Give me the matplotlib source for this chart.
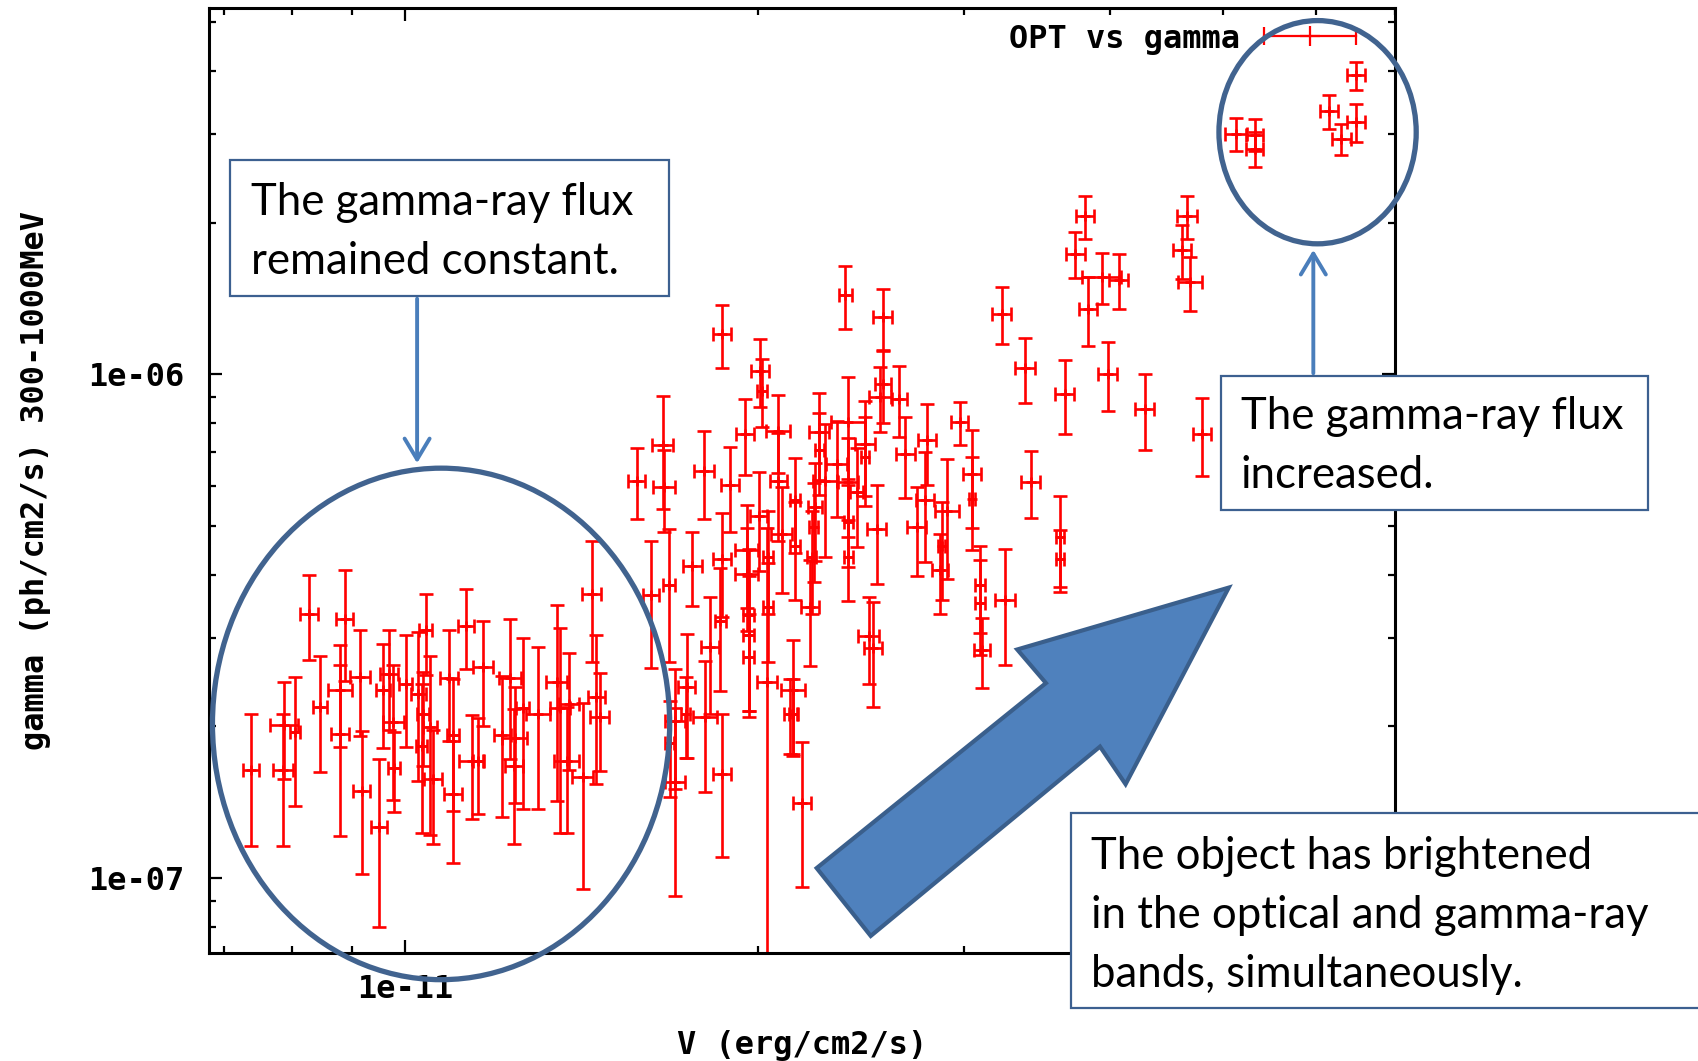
import numpy as np
import matplotlib.pyplot as plt
from matplotlib.patches import Rectangle, Ellipse, Polygon, FancyArrowPatch
from matplotlib.ticker import LogLocator, FixedLocator, FuncFormatter, NullFormatter

# V-band flux [1e-11 erg/cm2/s] and its error
v_flux = [
    0.739, 0.788, 0.787, 0.805, 0.828, 0.846, 0.888, 0.880, 0.880, 0.915, 0.918,
    0.950, 0.958, 0.969, 0.977, 0.979, 1.001, 1.026, 1.041, 1.033, 1.036, 1.050,
    1.057, 1.091, 1.099, 1.099, 1.127, 1.140, 1.166, 1.154, 1.211, 1.230, 1.239,
    1.241, 1.260, 1.299, 1.347, 1.356, 1.374, 1.381, 1.418, 1.443, 1.457, 1.467,
    1.866, 1.577, 1.660, 1.665, 1.622, 1.680, 1.801, 1.759, 1.895, 1.866, 1.951,
    2.010, 2.016, 2.082, 2.084, 1.958, 1.958, 2.004, 2.043, 2.043, 2.098, 1.701,
    1.701, 1.683, 1.740, 1.736, 1.804, 1.866, 1.822, 1.858, 1.965, 1.965, 1.965,
    2.037, 2.133, 2.376, 2.558, 2.560, 2.544, 2.644, 2.674, 2.259, 2.259, 2.391,
    2.472, 2.470, 2.337, 2.284, 2.391, 2.430, 2.529, 2.391, 2.391, 2.240, 2.233,
    2.225, 2.217, 2.153, 2.153, 2.790, 2.780, 2.735, 2.976, 3.049, 3.049, 2.902,
    2.872, 2.864, 2.146, 2.146, 2.182, 2.488, 2.509, 3.096, 3.100, 3.110,
    3.810, 3.736, 3.830, 3.937, 4.068, 3.234, 3.386, 3.660, 3.983, 4.282, 4.793,
    4.657, 4.609, 4.685, 3.422, 3.627, 3.627, 3.255,
    5.125, 5.316, 5.316, 6.150, 6.305, 6.490, 6.490,
]
v_err = [
    0.012, 0.022, 0.015, 0.008, 0.015, 0.012, 0.015, 0.020, 0.015, 0.018, 0.016,
    0.015, 0.013, 0.017, 0.020, 0.012, 0.013, 0.015, 0.014, 0.012, 0.012, 0.015,
    0.019, 0.019, 0.012, 0.020, 0.018, 0.028, 0.023, 0.012, 0.020, 0.026, 0.022,
    0.031, 0.016, 0.030, 0.028, 0.027, 0.034, 0.027, 0.030, 0.026, 0.025, 0.027,
    0.032, 0.027, 0.035, 0.037, 0.026, 0.020, 0.035, 0.033, 0.034, 0.032, 0.034,
    0.035, 0.020, 0.050, 0.034, 0.043, 0.045, 0.033, 0.020, 0.020, 0.043, 0.034,
    0.034, 0.015, 0.030, 0.015, 0.041, 0.034, 0.033, 0.020, 0.020, 0.020, 0.020,
    0.040, 0.028, 0.030, 0.049, 0.040, 0.056, 0.040, 0.050, 0.044, 0.020, 0.080,
    0.050, 0.020, 0.050, 0.054, 0.048, 0.030, 0.048, 0.020, 0.020, 0.030, 0.020,
    0.020, 0.040, 0.020, 0.020, 0.050, 0.047, 0.049, 0.052, 0.056, 0.020, 0.068,
    0.020, 0.047, 0.050, 0.020, 0.038, 0.050, 0.045, 0.030, 0.030, 0.050,
    0.070, 0.070, 0.070, 0.150, 0.074, 0.060, 0.065, 0.070, 0.075, 0.080, 0.083,
    0.090, 0.085, 0.110, 0.065, 0.030, 0.030, 0.065,
    0.110, 0.090, 0.090, 0.110, 0.115, 0.120, 0.120,
]

# gamma-ray flux 300-1000 MeV [1e-7 ph/cm2/s] and its error
g_flux = [
    1.64, 2.01, 1.64, 1.95, 3.35, 2.19, 3.27, 2.36, 1.93, 2.51, 1.49,
    1.26, 2.36, 2.54, 2.04, 1.65, 2.43, 2.32, 3.10, 1.83, 2.12, 1.99,
    1.57, 2.49, 1.92, 1.47, 3.17, 1.71, 2.62, 1.71, 1.92, 2.49, 1.67,
    1.90, 2.18, 2.12, 2.45, 2.18, 1.71, 2.22, 1.59, 3.67, 2.29, 2.09,
    12.03, 6.15, 7.22, 5.97, 3.64, 3.81, 6.44, 4.17, 6.02, 4.30, 7.62,
    10.17, 9.28, 7.73, 6.15, 4.47, 4.02, 5.24, 4.34, 3.45, 4.82, 2.05,
    1.55, 1.85, 2.39, 2.12, 2.09, 1.61, 2.87, 3.24, 3.32, 3.03, 2.75,
    2.45, 2.12, 14.35, 12.98, 9.56, 9.01, 8.94, 6.95, 7.67, 7.07, 8.03,
    7.28, 6.85, 6.64, 6.15, 6.11, 5.83, 4.93, 5.09, 4.34, 5.45, 4.97,
    4.34, 3.45, 5.62, 4.57, 7.39, 5.62, 4.97, 8.03, 6.35, 5.66, 5.36,
    4.57, 4.08, 2.36, 2.12, 1.41, 3.02, 2.86, 3.81, 3.52, 2.83,
    20.57, 17.34, 13.49, 15.59, 15.40, 13.18, 10.29, 9.15, 10.02, 8.54, 7.62,
    20.57, 17.61, 15.23, 6.11, 4.76, 4.30, 3.57,
    30.0, 29.9, 28.0, 33.3, 29.3, 31.65, 39.2,
]
g_err = [
    0.48, 0.44, 0.48, 0.56, 0.64, 0.57, 0.81, 0.54, 0.72, 0.60, 0.47,
    0.46, 0.55, 0.57, 0.61, 0.30, 0.61, 0.76, 0.57, 0.60, 0.45, 0.77,
    0.40, 0.62, 0.56, 0.40, 0.57, 0.40, 0.62, 0.37, 0.60, 0.77, 0.50,
    0.49, 0.81, 0.75, 1.03, 0.95, 0.48, 0.58, 0.64, 0.99, 0.75, 0.46,
    1.72, 1.00, 1.83, 1.11, 1.03, 1.13, 1.28, 0.70, 1.16, 1.00, 1.32,
    1.58, 1.43, 1.36, 1.48, 1.04, 0.93, 1.17, 1.00, 0.77, 1.14, 0.55,
    0.63, 0.40, 0.66, 0.39, 0.61, 0.51, 0.75, 0.89, 1.17, 0.94, 0.60,
    2.50, 0.36, 2.05, 1.80, 1.57, 1.32, 1.45, 1.26, 1.50, 1.30, 1.83,
    1.55, 1.38, 1.44, 1.82, 1.35, 1.30, 1.10, 0.95, 0.80, 1.20, 1.10,
    1.00, 0.82, 1.20, 1.00, 1.35, 1.39, 1.00, 0.79, 1.40, 1.18, 1.44,
    1.00, 0.74, 0.61, 0.36, 0.45, 0.59, 0.67, 0.75, 0.75, 0.45,
    2.03, 1.82, 2.09, 1.81, 1.90, 1.72, 1.52, 1.54, 1.55, 1.48, 1.33,
    2.03, 2.14, 1.89, 0.92, 0.98, 0.60, 0.92,
    2.28, 2.20, 2.20, 2.60, 2.10, 2.70, 2.50,
]

x_major = [1e-11]
y_major = [1e-7, 1e-6]

GNU_FONT = dict(family="DejaVu Sans Mono", weight="bold", size=23)
BOX_FONT = dict(family="Lato", size=31.5)
OUTLINE = "#3C6090"
ACCENT = "#4F81BD"

fig = plt.figure(figsize=(16.99, 10.61), dpi=100)
ax = fig.add_axes([0.1230, 0.1018, 0.6978, 0.8902])

x = np.array(v_flux) * 1e-11
xe = np.array(v_err) * 1e-11
y = np.array(g_flux) * 1e-7
ye = np.array(g_err) * 1e-7
# bars that reach zero run off the bottom of the log axis
ye_lo = np.minimum(ye, y * (1 - 1e-9))

ax.errorbar(x, y, xerr=xe, yerr=[ye_lo, ye], fmt="+", color="red",
            ms=7, mew=1.9, elinewidth=1.9, capsize=5, capthick=1.9)

ax.set_xscale("log")
ax.set_yscale("log")
ax.set_xlim(6.8e-12, 7.0e-11)
ax.set_ylim(7.1e-8, 5.32e-6)

sci = FuncFormatter(lambda v, _: f"{v:.0e}")
for axis, major in ((ax.xaxis, x_major), (ax.yaxis, y_major)):
    axis.set_major_locator(FixedLocator(major))
    axis.set_minor_locator(LogLocator(base=10, subs=np.arange(2, 10)))
    axis.set_major_formatter(sci)
    axis.set_minor_formatter(NullFormatter())

ax.tick_params(which="both", direction="in", top=True, right=True, width=1.6)
ax.tick_params(which="major", length=9.5)
ax.tick_params(which="minor", length=5)
ax.tick_params(axis="y", pad=18)
ax.tick_params(axis="x", pad=15)
for lab in ax.get_xticklabels() + ax.get_yticklabels():
    lab.set(**GNU_FONT)
for sp in ax.spines.values():
    sp.set_linewidth(2.2)

ax.set_xlabel("V (erg/cm2/s)", **GNU_FONT)
ax.xaxis.set_label_coords(0.5, -0.0975)
ax.xaxis.label.set_va("center")
ax.set_ylabel("gamma (ph/cm2/s) 300-1000MeV", **GNU_FONT)
ax.yaxis.set_label_coords(-0.146, 0.5)
ax.yaxis.label.set_va("center")

# key entry
ax.text(0.870, 0.9667, "OPT vs gamma", transform=ax.transAxes,
        ha="right", va="center", **GNU_FONT)
ax.plot([0.8903, 0.9671], [0.9704, 0.9704], transform=ax.transAxes,
        color="red", lw=1.6, marker="|", ms=13, mew=1.6)
ax.plot([0.9287], [0.9704], transform=ax.transAxes, color="red",
        marker="+", ms=14, mew=1.6)

# callouts on top of the plot
def box(x0, y0, x1, y1):
    fig.add_artist(Rectangle((x0, y0), x1 - x0, y1 - y0, transform=fig.transFigure,
                             facecolor="white", edgecolor=OUTLINE, lw=1.6, zorder=5))

box(0.1352, 0.7211, 0.3935, 0.8488)
fig.text(0.148, 0.781, "The gamma-ray flux\nremained constant.", ha="left",
         va="center", linespacing=1.55, zorder=6, **BOX_FONT)

box(0.7188, 0.5189, 0.9700, 0.6456)
fig.text(0.7302, 0.5795, "The gamma-ray flux\nincreased.", ha="left",
         va="center", linespacing=1.55, zorder=6, **BOX_FONT)

box(0.6301, 0.0500, 1.0100, 0.2339)
fig.text(0.6422, 0.137, "The object has brightened\nin the optical and gamma-ray\n"
         "bands, simultaneously.", ha="left", va="center", linespacing=1.55,
         zorder=6, **BOX_FONT)

for cx, cy, w, h in [(0.2596, 0.3177, 0.2691, 0.4821),
                     (0.7755, 0.8754, 0.1161, 0.2104)]:
    fig.add_artist(Ellipse((cx, cy), w, h, transform=fig.transFigure, fill=False,
                           edgecolor="#41638F", lw=3.8, zorder=4))

for a, b in [((0.2455, 0.7211), (0.2455, 0.5608)),
             ((0.7730, 0.6456), (0.7730, 0.7671))]:
    fig.add_artist(FancyArrowPatch(a, b, transform=fig.transFigure,
                                   arrowstyle="->,head_length=15,head_width=9",
                                   color="#4A7EBB", lw=2.8, zorder=4))

block = [(753.7, 801.0), (965.3, 630.3), (938.8, 599.3), (1134.0, 542.2),
         (1038.8, 723.6), (1015.2, 688.9), (803.6, 863.6)]
fig.add_artist(Polygon([(px / 1568, 1 - py / 979) for px, py in block],
                       closed=True, transform=fig.transFigure, facecolor=ACCENT,
                       edgecolor="#3A5F8C", lw=3, zorder=4))

fig.savefig("out.png", dpi=100, facecolor="white")
